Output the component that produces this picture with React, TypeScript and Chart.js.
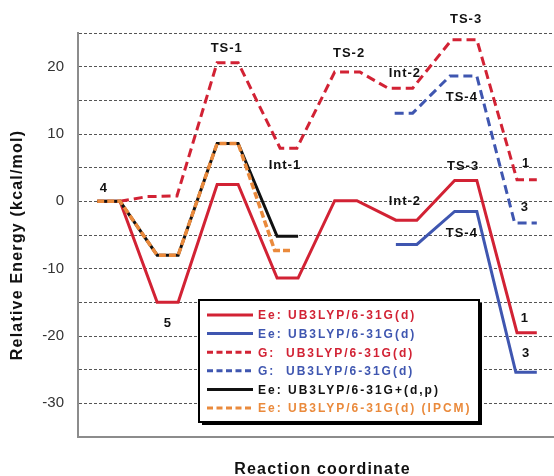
import React, { useEffect, useRef } from "react";
import { Chart, registerables } from "chart.js";

Chart.register(...registerables);

const RED = "#d22234";
const BLUE = "#3f56b0";
const ORANGE = "#ea8a3c";
const BLACK = "#111111";

// Reaction-coordinate positions (x) and relative energies (kcal/mol) per profile
const eeRedX = [0.32, 0.7, 1.32, 1.67, 2.32, 2.67, 3.32, 3.67, 4.28, 4.65, 5.3, 5.65, 6.28, 6.65, 7.32, 7.65];
const eeRedY = [0, 0, -15, -15, 2.5, 2.5, -11.4, -11.4, 0.1, 0.1, -2.8, -2.8, 3.1, 3.1, -19.5, -19.5];

const eeBlueX = [5.3, 5.65, 6.28, 6.65, 7.3, 7.65];
const eeBlueY = [-6.4, -6.4, -1.5, -1.5, -25.4, -25.4];

const gRedX = [0.7, 1.15, 1.65, 2.32, 2.67, 3.37, 3.65, 4.28, 4.7, 5.17, 5.58, 6.23, 6.65, 7.32, 7.65];
const gRedY = [0, 0.7, 0.8, 20.6, 20.6, 7.9, 7.9, 19.2, 19.2, 16.8, 16.8, 24, 24, 3.2, 3.2];

const gBlueX = [5.28, 5.58, 6.2, 6.65, 7.28, 7.65];
const gBlueY = [13.1, 13.1, 18.6, 18.6, -3.2, -3.2];

const eeBlackX = [0.32, 0.7, 1.32, 1.67, 2.32, 2.67, 3.32, 3.67];
const eeBlackY = [0, 0, -8, -8, 8.6, 8.6, -5.2, -5.2];

const eeOrangeX = [0.32, 0.7, 1.32, 1.67, 2.32, 2.67, 3.28, 3.57];
const eeOrangeY = [0, 0, -8, -8, 8.6, 8.6, -7.3, -7.3];

const seriesLabels = [
  "Ee: UB3LYP/6-31G(d)",
  "Ee: UB3LYP/6-31G(d)",
  "G:  UB3LYP/6-31G(d)",
  "G:  UB3LYP/6-31G(d)",
  "Ee: UB3LYP/6-31G+(d,p)",
  "Ee: UB3LYP/6-31G(d) (IPCM)",
];

// Species labels (text, reaction coordinate, energy)
const speciesText = ["4", "5", "TS-1", "Int-1", "TS-2", "Int-2", "TS-3", "TS-4", "1", "3", "Int-2", "TS-3", "TS-4", "1", "3"];
const speciesX = [0.43, 1.5, 2.48, 3.45, 4.52, 5.45, 6.47, 6.4, 7.47, 7.45, 5.45, 6.42, 6.4, 7.45, 7.47];
const speciesY = [1.9, -18.1, 22.7, 5.3, 22.0, 19.0, 27.0, 15.5, 5.6, -0.9, 0.0, 5.2, -4.8, -17.4, -22.6];

const yTickLabels = [20, 10, 0, -10, -20, -30];

const xTitle = "Reaction coordinate";
const yTitle = "Relative Energy (kcal/mol)";

const FONT = "'Liberation Sans', Arial, Helvetica, sans-serif";

const pts = (xs: number[], ys: number[]) => xs.map((x, i) => ({ x, y: ys[i] }));

const overlayPlugin = {
  id: "overlay",
  afterDraw(chart: any) {
    const { ctx, chartArea, scales } = chart;
    const xs = scales.x;
    const ys = scales.y;
    ctx.save();

    // species labels
    ctx.fillStyle = "#111";
    ctx.textAlign = "center";
    ctx.textBaseline = "middle";
    (ctx as any).letterSpacing = "1px";
    ctx.font = `bold 13px ${FONT}`;
    speciesText.forEach((t, i) => {
      ctx.fillText(t, xs.getPixelForValue(speciesX[i]), ys.getPixelForValue(speciesY[i]));
    });

    // legend box
    const bx = chartArea.left + 121;
    const by = chartArea.top + 267;
    const bw = 280;
    const bh = 122;
    ctx.fillStyle = "#000";
    ctx.fillRect(bx + 3, by + 3, bw, bh);
    ctx.fillStyle = "#fff";
    ctx.fillRect(bx, by, bw, bh);
    ctx.strokeStyle = "#000";
    ctx.lineWidth = 2;
    ctx.strokeRect(bx, by, bw, bh);

    const dsets = chart.data.datasets;
    dsets.forEach((ds: any, row: number) => {
      const cy = by + 15 + row * 18.6;
      ctx.save();
      ctx.strokeStyle = ds.borderColor;
      ctx.lineWidth = 3;
      ctx.setLineDash(ds.borderDash && ds.borderDash.length ? [6, 3.5] : []);
      ctx.beginPath();
      ctx.moveTo(bx + 8, cy);
      ctx.lineTo(bx + 54, cy);
      ctx.stroke();
      ctx.restore();
      ctx.fillStyle = ds.borderColor;
      ctx.font = `bold 12px ${FONT}`;
      ctx.textAlign = "left";
      ctx.textBaseline = "middle";
      (ctx as any).letterSpacing = "2px";
      ctx.fillText(ds.label, bx + 59, cy + 1);
    });

    // axis titles
    ctx.fillStyle = "#111";
    ctx.font = `bold 16px ${FONT}`;
    (ctx as any).letterSpacing = "1.2px";
    ctx.textAlign = "center";
    ctx.textBaseline = "middle";
    ctx.fillText(xTitle, (chartArea.left + chartArea.right) / 2 + 7, chart.height - 6);
    ctx.save();
    ctx.translate(18, (chartArea.top + chartArea.bottom) / 2 + 10);
    ctx.rotate(-Math.PI / 2);
    ctx.fillText(yTitle, 0, 0);
    ctx.restore();

    (ctx as any).letterSpacing = "0px";
    ctx.restore();
  },
};

export default function App() {
  const ref = useRef<HTMLCanvasElement | null>(null);

  useEffect(() => {
    if (!ref.current) return;
    const common = { pointRadius: 0, tension: 0, fill: false, borderCapStyle: "butt", borderJoinStyle: "miter" };
    const chart = new Chart(ref.current, {
      type: "line",
      data: {
        datasets: [
          { ...common, label: seriesLabels[0], data: pts(eeRedX, eeRedY), borderColor: RED, borderWidth: 3, order: 5 },
          { ...common, label: seriesLabels[1], data: pts(eeBlueX, eeBlueY), borderColor: BLUE, borderWidth: 3, order: 4 },
          { ...common, label: seriesLabels[2], data: pts(gRedX, gRedY), borderColor: RED, borderWidth: 3, borderDash: [9, 5], order: 3 },
          { ...common, label: seriesLabels[3], data: pts(gBlueX, gBlueY), borderColor: BLUE, borderWidth: 3, borderDash: [9, 5], order: 2 },
          { ...common, label: seriesLabels[4], data: pts(eeBlackX, eeBlackY), borderColor: BLACK, borderWidth: 3, order: 1 },
          { ...common, label: seriesLabels[5], data: pts(eeOrangeX, eeOrangeY), borderColor: ORANGE, borderWidth: 3.5, borderDash: [7, 3], order: 0 },
        ] as any,
      },
      options: {
        animation: false,
        responsive: false,
        devicePixelRatio: 1,
        layout: { padding: { top: 33, right: 1, left: 0, bottom: 0 } },
        plugins: { legend: { display: false }, tooltip: { enabled: false }, title: { display: false } },
        scales: {
          x: {
            type: "linear",
            min: 0,
            max: 7.92,
            ticks: { display: false },
            grid: { display: false },
            border: { display: true, color: "#8c8c8c", width: 2 },
            afterFit: (s: any) => {
              s.height = 39;
            },
          },
          y: {
            type: "linear",
            min: -35,
            max: 25,
            ticks: {
              stepSize: 5,
              autoSkip: false,
              padding: 14,
              color: "#333",
              font: { family: FONT, size: 15 },
              callback: (v: any) => (yTickLabels.includes(Number(v)) ? String(v) : ""),
            },
            grid: { color: "#555555", lineWidth: 1, drawTicks: false },
            border: { display: true, color: "#8c8c8c", width: 2, dash: [3, 2] },
            afterFit: (s: any) => {
              s.width = 78;
            },
          },
        },
      } as any,
      plugins: [overlayPlugin],
    });
    return () => chart.destroy();
  }, []);

  return (
    <div style={{ position: "fixed", left: 0, top: 0, width: 554, height: 476, background: "#fff" }}>
      <canvas ref={ref} width={554} height={476} style={{ display: "block" }} />
    </div>
  );
}
